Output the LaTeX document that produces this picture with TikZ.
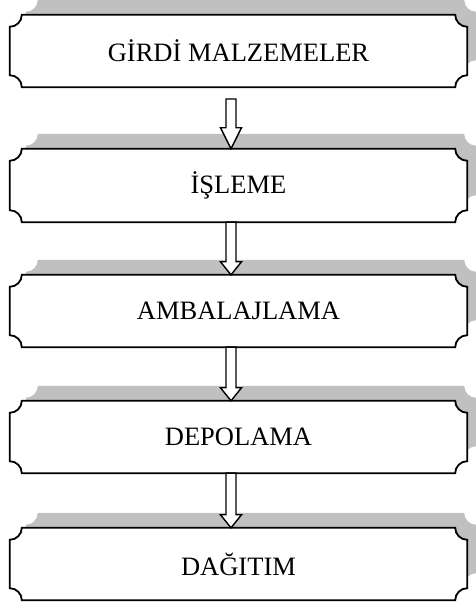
\documentclass[tikz,border=0pt]{standalone}
\usepackage{fontspec}
\setmainfont{Liberation Serif}
\usetikzlibrary{calc,backgrounds}
\definecolor{shadowgray}{RGB}{192,192,192}
\tikzset{
  boxnode/.style={minimum width=457pt, minimum height=72pt, inner sep=0pt, font=\fontsize{26.5}{30}\selectfont},
  boxline/.style={draw=black, line width=1.8pt, fill=white},
  shadowfill/.style={fill=shadowgray},
  blockarrow/.style={draw=black, line width=1.4pt, fill=white, line join=miter}
}
% #1 node, #2 left shift, #3 right shift, #4 vertical shift, #5 style
\newcommand\plaqpath[5]{%
  \path[#5] ($(#1.north west)+(#2+12,#4)$) -- ($(#1.north east)+(#3-12,#4)$)
    arc[start angle=180,end angle=270,radius=12pt]
    -- ($(#1.south east)+(#3,#4+12)$)
    arc[start angle=90,end angle=180,radius=12pt]
    -- ($(#1.south west)+(#2+12,#4)$)
    arc[start angle=0,end angle=90,radius=12pt]
    -- ($(#1.north west)+(#2,#4-12)$)
    arc[start angle=270,end angle=360,radius=12pt] -- cycle;}
\newcommand\blockarr[3]{%
  \draw[blockarrow] let \p1=(#1), \p2=(#2) in
    (\x1-5pt,\y1) -- (\x1+5pt,\y1) -- (\x1+5pt,\y2+#3) -- (\x1+10.5pt,\y2+#3)
    -- (\x1,\y2) -- (\x1-10.5pt,\y2+#3) -- (\x1-5pt,\y2+#3) -- cycle;}
\begin{document}
\begin{tikzpicture}[x=1pt,y=1pt]
\useasboundingbox (0,0) rectangle (476,608);
\node[boxnode] (b1) at (238.5,557) {GİRDİ MALZEMELER};
\node[boxnode, minimum height=73pt] (b2) at (238.5,422.5) {İŞLEME};
\node[boxnode] (b3) at (238.5,297) {AMBALAJLAMA};
\node[boxnode] (b4) at (238.5,171) {DEPOLAMA};
\node[boxnode] (b5) at (238.5,44) {DAĞITIM};
\begin{pgfonlayer}{background}
  \foreach \b in {b1,b2,b3,b4,b5} {\plaqpath{\b}{16}{9}{15}{shadowfill}}
  \foreach \b in {b1,b2,b3,b4,b5} {\plaqpath{\b}{0}{0}{0}{boxline}}
\end{pgfonlayer}
\coordinate (a1s) at (231,509);
\coordinate (a1e) at (a1s |- b2.north);
\coordinate (a2s) at (b2.south -| a1s);
\coordinate (a2e) at (b3.north -| a1s);
\coordinate (a3s) at (b3.south -| a1s);
\coordinate (a3e) at (b4.north -| a1s);
\coordinate (a4s) at (b4.south -| a1s);
\coordinate (a4e) at (b5.north -| a1s);
\blockarr{a1s}{a1e}{21pt}
\blockarr{a2s}{a2e}{13pt}
\blockarr{a3s}{a3e}{13pt}
\blockarr{a4s}{a4e}{13pt}
\end{tikzpicture}
\end{document}
